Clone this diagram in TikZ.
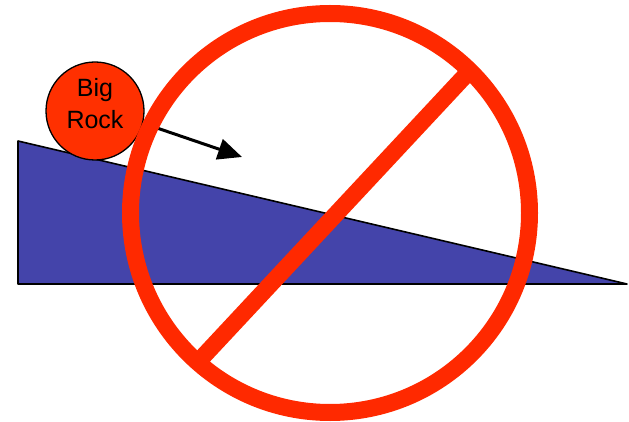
\documentclass[tikz,border=0pt]{standalone}
\usepackage{fontspec}
\setmainfont{Liberation Sans}
\usetikzlibrary{arrows.meta}
\definecolor{nored}{RGB}{255,41,0}
\definecolor{rockred}{RGB}{255,48,0}
\definecolor{rampblue}{RGB}{68,68,170}
\tikzset{
  ramp/.style={draw=black, fill=rampblue, line width=1.6pt, line join=round},
  rockball/.style={circle, draw=black, fill=rockred, line width=1.3pt, minimum size=98pt, inner sep=0pt},
  rocklabel/.style={align=center, inner sep=0pt, font=\fontsize{25}{32}\selectfont},
  pusharrow/.style={line width=3pt, -{Triangle[length=24pt,width=21pt]}},
  noring/.style={circle, draw=nored, line width=17pt, minimum size=399pt, inner sep=0pt, outer sep=0pt},
  noslash/.style={draw=nored, line width=17pt}
}
\begin{document}
\begin{tikzpicture}[x=1pt,y=-1pt]
\useasboundingbox (0,0) rectangle (629,422);
% ramp
\coordinate (rampTop) at (18,141);
\coordinate (rampBase) at (18,284);
\coordinate (rampTip) at (627,284);
\draw[ramp] (rampTop) -- (rampBase) -- (rampTip) -- cycle;
% rock
\node[rockball] (rock) at (95,111) {};
\node[rocklabel] (rocktext) at (95,103.5) {Big\\Rock};
% arrow
\coordinate (arrowStart) at (157,128);
\coordinate (arrowTip) at (242,157);
\draw[pusharrow] (arrowStart) -- (arrowTip);
% no sign
\coordinate (slashA) at (470.1,70.4);
\coordinate (slashB) at (197.4,362.6);
\draw[noslash] (slashA) -- (slashB);
\node[noring] (nosign) at (330,213) {};
\end{tikzpicture}
\end{document}
